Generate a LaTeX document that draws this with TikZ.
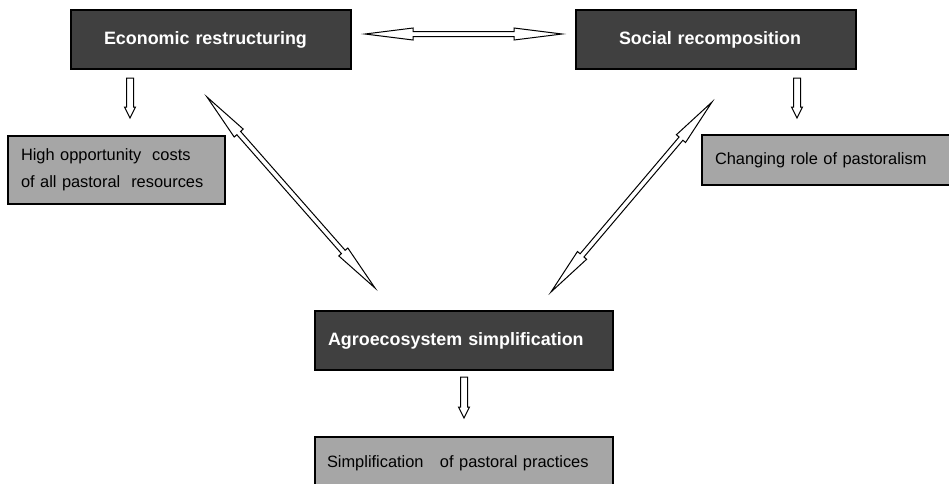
\documentclass[tikz,border=0pt]{standalone}
\usepackage{fontspec}
\setmainfont{Liberation Sans}
\usepackage{tikz}
\usetikzlibrary{calc}
\definecolor{darkbox}{HTML}{404040}
\definecolor{lightbox}{HTML}{A6A6A6}
\tikzstyle{box}=[draw, line width=1.3pt, anchor=north west, inner ysep=0, outer sep=0, align=left]
\tikzstyle{dbox}=[box, fill=darkbox, text=white, minimum height=59, font=\fontsize{17.9}{21}\selectfont\bfseries]
\tikzstyle{lbox}=[box, fill=lightbox, font=\fontsize{16.4}{27}\selectfont]
\tikzstyle{hollow}=[draw, fill=white, line width=1pt, line join=miter]
% hollow arrow with heads at both ends
\newcommand{\twohead}[2]{%
  \coordinate (#1a) at ($(#1)!48pt!(#2)$);
  \coordinate (#1b) at ($(#2)!48pt!(#1)$);
  \draw[hollow] (#1)
    -- ($(#1a)!6pt!90:(#2)$) -- ($(#1a)!2.5pt!90:(#2)$)
    -- ($(#1b)!2.5pt!-90:(#1)$) -- ($(#1b)!6pt!-90:(#1)$)
    -- (#2)
    -- ($(#1b)!6pt!90:(#1)$) -- ($(#1b)!2.5pt!90:(#1)$)
    -- ($(#1a)!2.5pt!-90:(#2)$) -- ($(#1a)!6pt!-90:(#2)$)
    -- cycle;}
% hollow arrow with one head
\newcommand{\onehead}[2]{%
  \coordinate (#1a) at ($(#2)!11pt!(#1)$);
  \draw[hollow] ($(#1)!3.5pt!90:(#2)$)
    -- ($(#1a)!3.5pt!-90:(#1)$) -- ($(#1a)!5.5pt!-90:(#1)$)
    -- (#2)
    -- ($(#1a)!5.5pt!90:(#1)$) -- ($(#1a)!3.5pt!90:(#1)$)
    -- ($(#1)!3.5pt!-90:(#2)$) -- cycle;}

\begin{document}
\begin{tikzpicture}[x=1pt, y=-1pt]
  \useasboundingbox (0,0) rectangle (949,483);
  \fill[white] (0,0) rectangle (949,483);

  \node[dbox, minimum width=280, text width=214, inner xsep=33] (econ)   at (71,10)  {Economic restructuring};
  \node[dbox, minimum width=280, text width=194, inner xsep=43] (social) at (576,10) {Social recomposition};
  \node[dbox, minimum width=298, text width=272, inner xsep=13] (agro)   at (315,311) {Agroecosystem simplification};

  \node[lbox, minimum width=217, minimum height=68, text width=191, inner xsep=13] (costs)     at (8,136)   {High opportunity\ \ costs\\of all pastoral\ \ resources};
  \node[lbox, minimum width=262, minimum height=50, text width=236, inner xsep=13] (role)      at (702,135) {Changing role of pastoralism};
  \node[lbox, minimum width=298, minimum height=52, text width=274, inner xsep=12] (practices) at (315,437) {Simplification\ \ \ of pastoral practices};

  \coordinate (econleft)  at (365,34);
  \coordinate (socright)  at (562,34);
  \coordinate (econdiag)  at (207,97);
  \coordinate (agroleft)  at (375,288);
  \coordinate (socdiag)   at (712,102);
  \coordinate (agroright) at (551,292);
  \coordinate (econout)   at (130,78);
  \coordinate (costsin)   at (130,118);
  \coordinate (socout)    at (797,78);
  \coordinate (rolein)    at (797,118);
  \coordinate (agroout)   at (464,377);
  \coordinate (practin)   at (464,418);

  \twohead{econleft}{socright}
  \twohead{econdiag}{agroleft}
  \twohead{socdiag}{agroright}
  \onehead{econout}{costsin}
  \onehead{socout}{rolein}
  \onehead{agroout}{practin}
\end{tikzpicture}
\end{document}
